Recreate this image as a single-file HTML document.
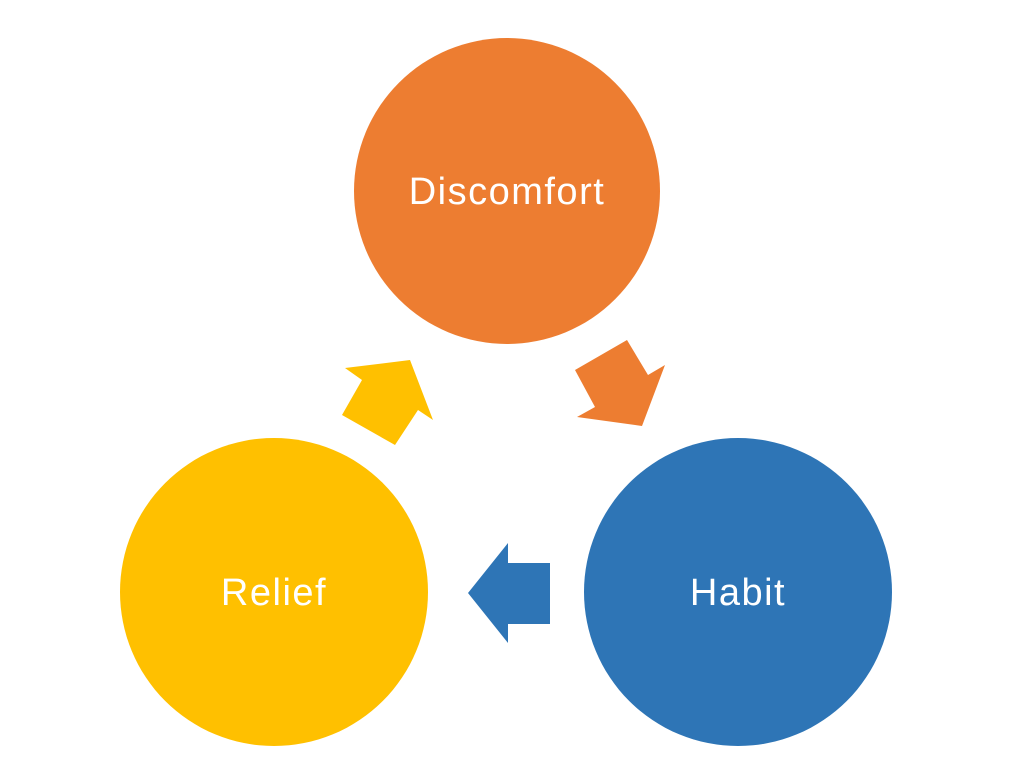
<!DOCTYPE html>
<html><head><style>html,body{margin:0;padding:0;background:#fff;width:1024px;height:768px;overflow:hidden}</style></head>
<body>
<svg width="1024" height="768" xmlns="http://www.w3.org/2000/svg">
<circle cx="507" cy="191" r="153" fill="#ED7D31"/>
<circle cx="274" cy="592" r="154" fill="#FFC000"/>
<circle cx="738" cy="592" r="154" fill="#2E75B6"/>
<polygon points="468,593 508,543 508,563 550,563 550,624 508,624 508,643" fill="#2E75B6"/>
<polygon points="410,360 433,420 418,410 395,445 342,415 362,380 345,368" fill="#FFC000"/>
<polygon points="627,340 648,375 665,365 642,426 577,417 595,407 575,370" fill="#ED7D31"/>
<g font-family="Liberation Sans, sans-serif" font-size="38" fill="#fff" text-anchor="middle" letter-spacing="1.5">
<text x="507" y="204">Discomfort</text>
<text x="274" y="605">Relief</text>
<text x="738" y="605">Habit</text>
</g>
</svg>
</body></html>
